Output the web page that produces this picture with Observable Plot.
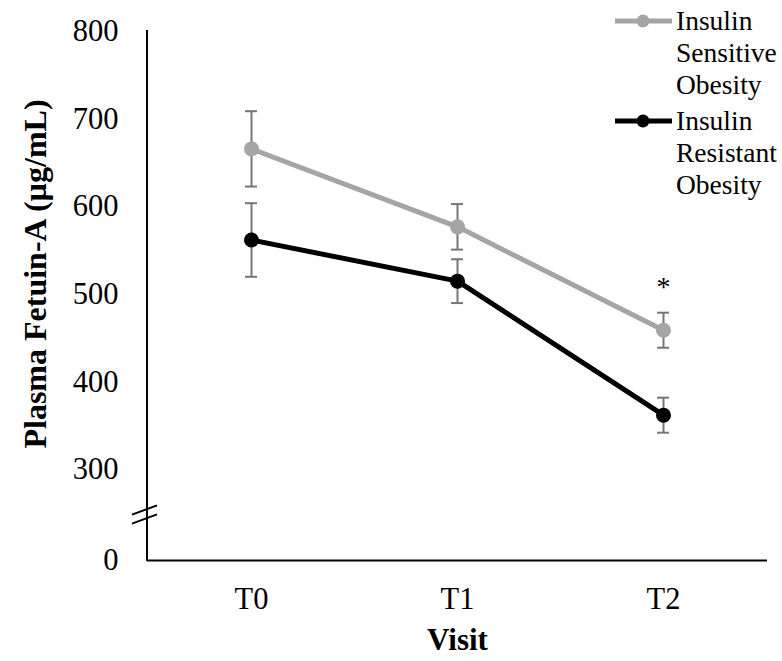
<!DOCTYPE html>
<html>
<head>
<meta charset="utf-8">
<script src="https://cdn.jsdelivr.net/npm/d3@7"></script>
<script src="https://cdn.jsdelivr.net/npm/@observablehq/plot@0.6"></script>
<style>
  body { margin: 0; background: #fff; }
  #chart { position: relative; width: 782px; height: 661px; font-family: "Liberation Serif", "Times New Roman", serif; }
  #legend { position: absolute; left: 614px; top: 5px; font-size: 27.5px; line-height: 32px; color: #000; }
  .item { display: flex; align-items: flex-start; margin-bottom: 4px; }
  .item svg { flex: none; }
</style>
</head>
<body>
<div id="chart"></div>
<script>
// Visits and group summaries (mean ± error)
const visits = ["T0", "T1", "T2"];
const groups = ["Insulin Sensitive Obesity", "Insulin Resistant Obesity"];
const groupColors = ["#a5a5a5", "#000000"];
const sensitiveMean = [666, 577, 459];
const sensitiveErr = [43, 26, 20];
const resistantMean = [562, 515, 362];
const resistantErr = [42, 25, 20];

// Broken y axis: 0, then 300–800
const yTicks = [0, 300, 400, 500, 600, 700, 800];
const yTickLabels = ["0", "300", "400", "500", "600", "700", "800"];
const yBreak = 150;

// Significance markers
const significant = [{visit: "T2", label: "*"}];

const xTitle = "Visit";
const yTitle = "Plasma Fetuin-A (µg/mL)";

const rows = [];
visits.forEach((v, i) => {
  rows.push({visit: v, group: groups[0], mean: sensitiveMean[i], err: sensitiveErr[i]});
  rows.push({visit: v, group: groups[1], mean: resistantMean[i], err: resistantErr[i]});
});
const caps = rows.flatMap(d => [{visit: d.visit, v: d.mean + d.err}, {visit: d.visit, v: d.mean - d.err}]);
const sigRows = significant.map(s => {
  const top = d3.max(rows.filter(r => r.visit === s.visit), r => r.mean + r.err);
  return {...s, y: top};
});

const W = 782, H = 661, mL = 147, mR = 15, mT = 31, mB = 101;
const errColor = "#767676";

// Left axis line with the two break slashes
function axisWithBreak(index, scales, values, dimensions) {
  const y = scales.y;
  const x0 = dimensions.marginLeft;
  const g = d3.create("svg:g").attr("stroke", "#000").attr("stroke-width", 2).attr("fill", "none");
  g.append("line").attr("x1", x0).attr("x2", x0).attr("y1", y(d3.max(yTicks)) - 1).attr("y2", y(0) + 1);
  const yb = y(yBreak);
  for (const off of [-4.5, 4.5]) {
    g.append("line")
      .attr("x1", x0 - 15).attr("y1", yb + off + 4.6)
      .attr("x2", x0 + 10).attr("y2", yb + off - 4.6);
  }
  return g.node();
}

const plot = Plot.plot({
  width: W,
  height: H,
  marginLeft: mL,
  marginRight: mR,
  marginTop: mT,
  marginBottom: mB,
  style: {fontFamily: "'Liberation Serif', 'Times New Roman', serif", background: "transparent", color: "#000"},
  x: {type: "point", domain: visits, padding: 0.5},
  y: {type: "linear", domain: [0, 300, 800], range: [H - mB, H - mB - 91, mT]},
  color: {domain: groups, range: groupColors},
  marks: [
    Plot.axisX({tickSize: 0, tickPadding: 27, fontSize: 30.5, label: null}),
    Plot.axisY({ticks: yTicks, tickFormat: d => yTickLabels[yTicks.indexOf(d)], tickSize: 0, tickPadding: 29, fontSize: 30.5, label: null}),
    Plot.ruleY([0], {stroke: "#000", strokeWidth: 2}),
    axisWithBreak,
    Plot.ruleX(rows, {x: "visit", y1: d => d.mean - d.err, y2: d => d.mean + d.err, stroke: errColor, strokeWidth: 2}),
    Plot.ruleY(caps, {x1: "visit", x2: "visit", y: "v", insetLeft: -6, insetRight: -6, stroke: errColor, strokeWidth: 2}),
    Plot.line(rows, {x: "visit", y: "mean", z: "group", stroke: "group", strokeWidth: 5}),
    Plot.dot(rows, {x: "visit", y: "mean", fill: "group", r: 7.5}),
    Plot.text(sigRows, {x: "visit", y: "y", text: "label", dy: -26, fontSize: 28, fill: "#000"}),
    Plot.text([xTitle], {text: d => d, frameAnchor: "bottom", dy: 89, fontSize: 31, fontWeight: "bold", fill: "#000"}),
    Plot.text([yTitle], {text: d => d, frameAnchor: "left", textAnchor: "middle", rotate: -90, dx: -112, dy: -22, fontSize: 32, fontWeight: "bold", fill: "#000"})
  ]
});

const chart = document.getElementById("chart");
chart.appendChild(plot);

// Legend: line-and-marker swatch followed by the wrapped group name
const legend = d3.select(chart).append("div").attr("id", "legend");
groups.forEach((g, i) => {
  const item = legend.append("div").attr("class", "item");
  const sw = item.append("svg").attr("width", 62).attr("height", 32);
  sw.append("line").attr("x1", 1).attr("x2", 58).attr("y1", 16).attr("y2", 16)
    .attr("stroke", groupColors[i]).attr("stroke-width", 5);
  sw.append("circle").attr("cx", 29).attr("cy", 16).attr("r", 6.5).attr("fill", groupColors[i]);
  const txt = item.append("div");
  g.split(" ").forEach(w => txt.append("div").text(w));
});
</script>
</body>
</html>
